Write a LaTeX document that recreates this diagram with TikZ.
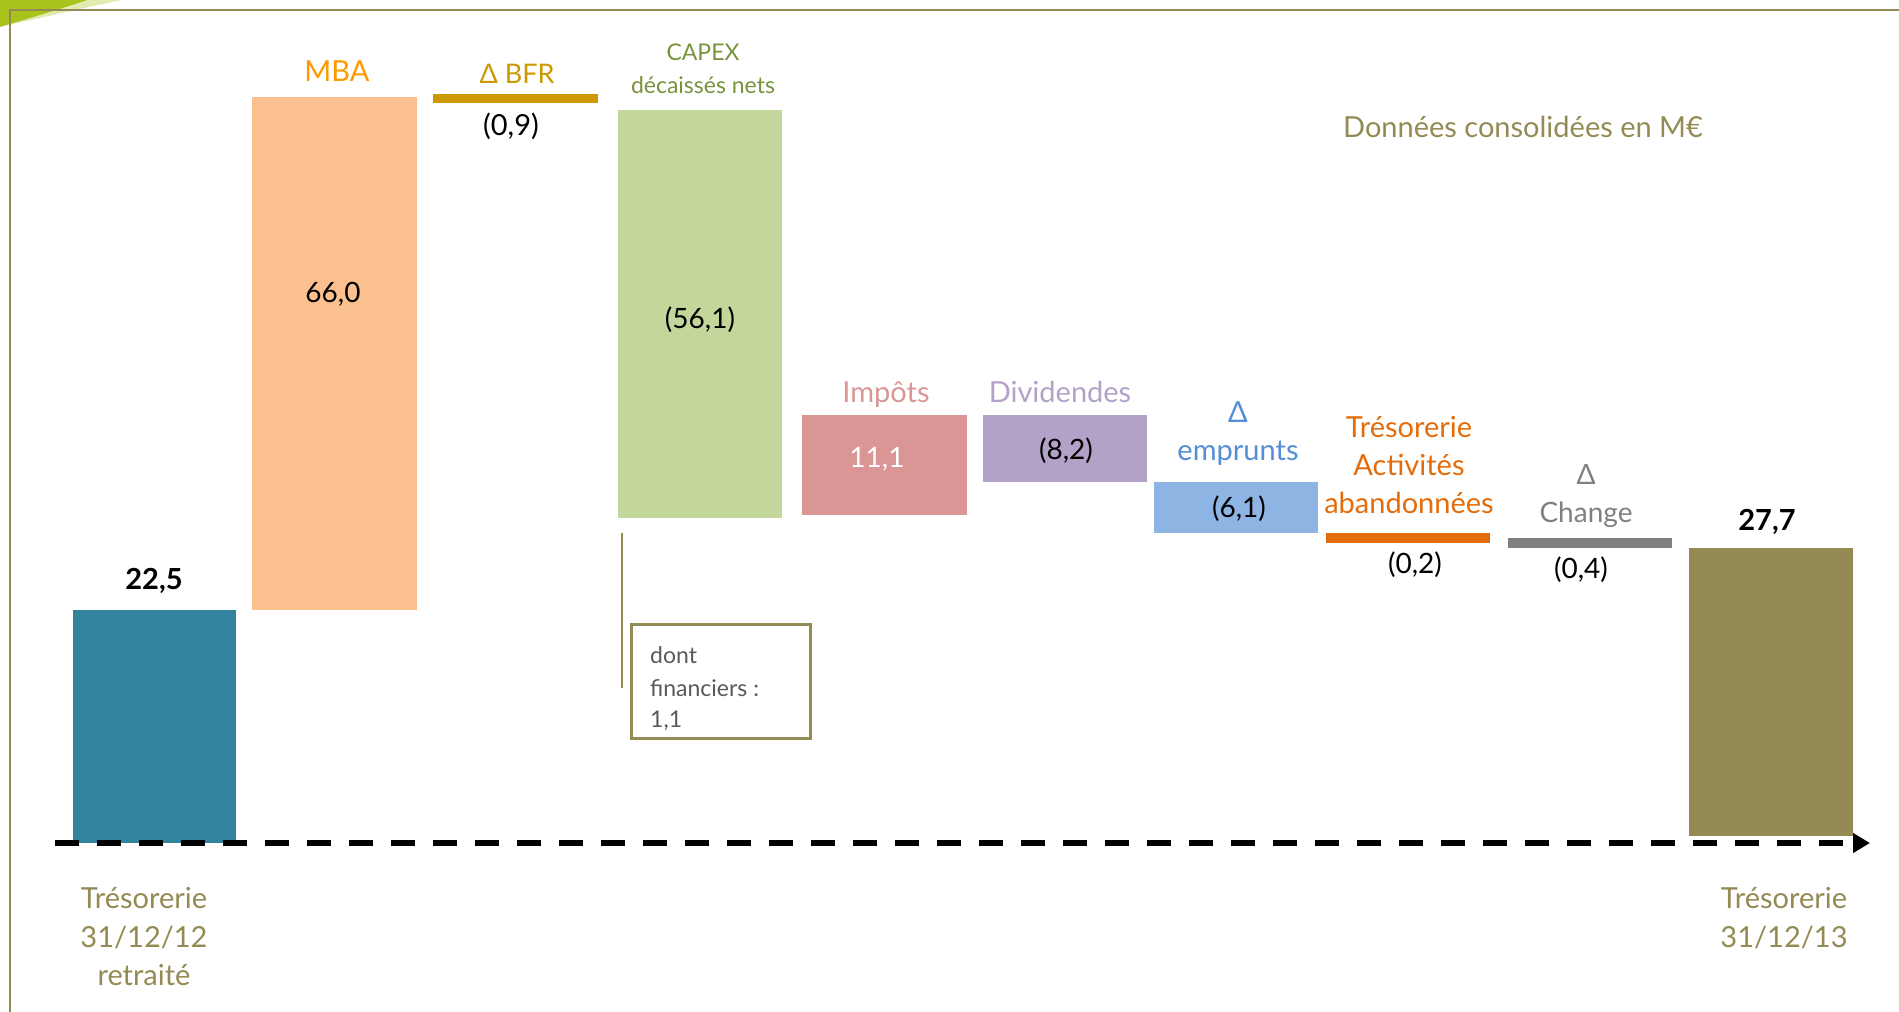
\documentclass[tikz,border=0pt]{standalone}
\usepackage{fontspec}
\setmainfont{Lato}
\usetikzlibrary{arrows.meta,positioning}
\definecolor{cFrame}{HTML}{948A54}
\definecolor{cSwoosh}{HTML}{A8C41C}
\definecolor{cTeal}{HTML}{31849B}
\definecolor{cMbaBar}{HTML}{FAC090}
\definecolor{cMba}{HTML}{FF9900}
\definecolor{cBfr}{HTML}{CC9900}
\definecolor{cCapexBar}{HTML}{C3D69B}
\definecolor{cCapex}{HTML}{77933C}
\definecolor{cImpot}{HTML}{D99694}
\definecolor{cDivid}{HTML}{B3A2C7}
\definecolor{cEmprBar}{HTML}{8EB4E3}
\definecolor{cEmpr}{HTML}{558ED5}
\definecolor{cAband}{HTML}{E46C0A}
\definecolor{cChange}{HTML}{808080}
\definecolor{cNote}{HTML}{595959}

\begin{document}
\begin{tikzpicture}[x=1pt,y=-1pt,
    bar/.style = {inner sep=0pt, outer sep=0pt, anchor=north west},
    lbl/.style = {anchor=base, inner sep=0pt, font=\fontsize{29}{34}\selectfont},
    sub/.style = {anchor=base, inner sep=0pt, font=\fontsize{23}{27}\selectfont},
    val/.style = {anchor=base, inner sep=0pt, font=\fontsize{28}{32}\selectfont},
    tot/.style = {anchor=base, inner sep=0pt, font=\bfseries\fontsize{29}{34}\selectfont},
    note/.style = {anchor=base west, inner sep=0pt, text=cNote, font=\fontsize{23}{27}\selectfont}]
	\useasboundingbox (0,0) rectangle (1899,1012);
	
	%Corner swoosh and frame
	\fill[cSwoosh] (0,0) -- (88,0) .. controls (58,10) and (25,20) .. (0,27) -- cycle;
	\fill[cSwoosh!35] (88,0) -- (122,0) .. controls (82,8) and (40,18) .. (0,27) .. controls (25,20) and (58,10) .. (88,0) -- cycle;
	\coordinate (fb) at (10,1012);
	\coordinate (fc) at (10,10);
	\coordinate (fr) at (1899,10);
	\draw[cFrame,line width=2.5pt] (fb) -- (fc) -- (fr);
	
	%Bars of the waterfall
	\node[bar,fill=cTeal,minimum width=163pt,minimum height=233pt] (t12) at (73,610) {};
	\node[bar,fill=cMbaBar,minimum width=165pt,minimum height=513pt] (mba) at (252,97) {};
	\node[bar,fill=cBfr,minimum width=165pt,minimum height=9pt] (bfr) at (433,94) {};
	\node[bar,fill=cCapexBar,minimum width=164pt,minimum height=408pt] (capex) at (618,110) {};
	\node[bar,fill=cImpot,minimum width=165pt,minimum height=100pt] (impot) at (802,415) {};
	\node[bar,fill=cDivid,minimum width=164pt,minimum height=67pt] (divid) at (983,415) {};
	\node[bar,fill=cEmprBar,minimum width=164pt,minimum height=51pt] (empr) at (1154,482) {};
	\node[bar,fill=cAband,minimum width=164pt,minimum height=10pt] (aband) at (1326,533) {};
	\node[bar,fill=cChange,minimum width=164pt,minimum height=10pt] (change) at (1508,538) {};
	\node[bar,fill=cFrame,minimum width=164pt,minimum height=288pt] (t13) at (1689,548) {};
	
	%Titles of the bars
	\node[lbl,text=cMba] (mbaT) at (337,81) {MBA};
	\node[lbl,text=cBfr,font=\fontsize{27}{31}\selectfont] (bfrT) at (517,83) {Δ BFR};
	\node[sub,text=cCapex] (capexT) at (703,60) {CAPEX};
	\node[sub,text=cCapex] (capexS) at (703,93) {décaissés nets};
	\node[lbl,text=cImpot] (impotT) at (886,402) {Impôts};
	\node[lbl,text=cDivid] (dividT) at (1060,402) {Dividendes};
	\node[lbl,text=cEmpr] (emprD) at (1238,422) {Δ};
	\node[lbl,text=cEmpr] (emprT) at (1238,460) {emprunts};
	\node[lbl,text=cAband] (abandA) at (1409,437) {Trésorerie};
	\node[lbl,text=cAband] (abandB) at (1409,475) {Activités};
	\node[lbl,text=cAband] (abandC) at (1409,513) {abandonnées};
	\node[lbl,text=cChange,font=\fontsize{28}{32}\selectfont] (changeD) at (1586,484) {Δ};
	\node[lbl,text=cChange,font=\fontsize{28}{32}\selectfont] (changeT) at (1586,522) {Change};
	\node[lbl,text=cFrame] (unit) at (1523,137) {Données consolidées en M€};
	
	%Values
	\node[tot] (t12V) at (154,589) {22,5};
	\node[val] (mbaV) at (333,302) {66,0};
	\node[val,font=\fontsize{29}{33}\selectfont] (bfrV) at (511,135) {(0,9)};
	\node[val] (capexV) at (700,328) {(56,1)};
	\node[val,text=white] (impotV) at (877,467) {11,1};
	\node[val] (dividV) at (1066,459) {(8,2)};
	\node[val] (emprV) at (1239,517) {(6,1)};
	\node[val] (abandV) at (1415,573) {(0,2)};
	\node[val] (changeV) at (1581,578) {(0,4)};
	\node[tot] (t13V) at (1767,530) {27,7};
	
	%Note on financial CAPEX
	\coordinate (capexNa) at (622,533);
	\coordinate (capexNb) at (622,688);
	\draw[cFrame,line width=2.5pt] (capexNa) -- (capexNb);
	\node[draw=cFrame,line width=3pt,bar,minimum width=179pt,minimum height=114pt] (noteBox) at (631.5,624.5) {};
	\node[note] (noteA) at (650,663) {dont};
	\node[note] (noteB) at (650,696) {financiers :};
	\node[note] (noteC) at (650,727) {1,1};
	
	%Time axis
	\coordinate (axL) at (55,843);
	\coordinate (axR) at (1870,843);
	\draw[line width=6pt,dash pattern=on 24pt off 18pt,-{Triangle[length=17pt,width=19pt]}] (axL) -- (axR);
	
	%Dates under the axis
	\node[lbl,text=cFrame] (t12A) at (144,908) {Trésorerie};
	\node[lbl,text=cFrame] (t12B) at (144,947) {31/12/12};
	\node[lbl,text=cFrame] (t12C) at (144,985) {retraité};
	\node[lbl,text=cFrame] (t13A) at (1784,908) {Trésorerie};
	\node[lbl,text=cFrame] (t13B) at (1784,947) {31/12/13};
	
\end{tikzpicture}
\end{document}
